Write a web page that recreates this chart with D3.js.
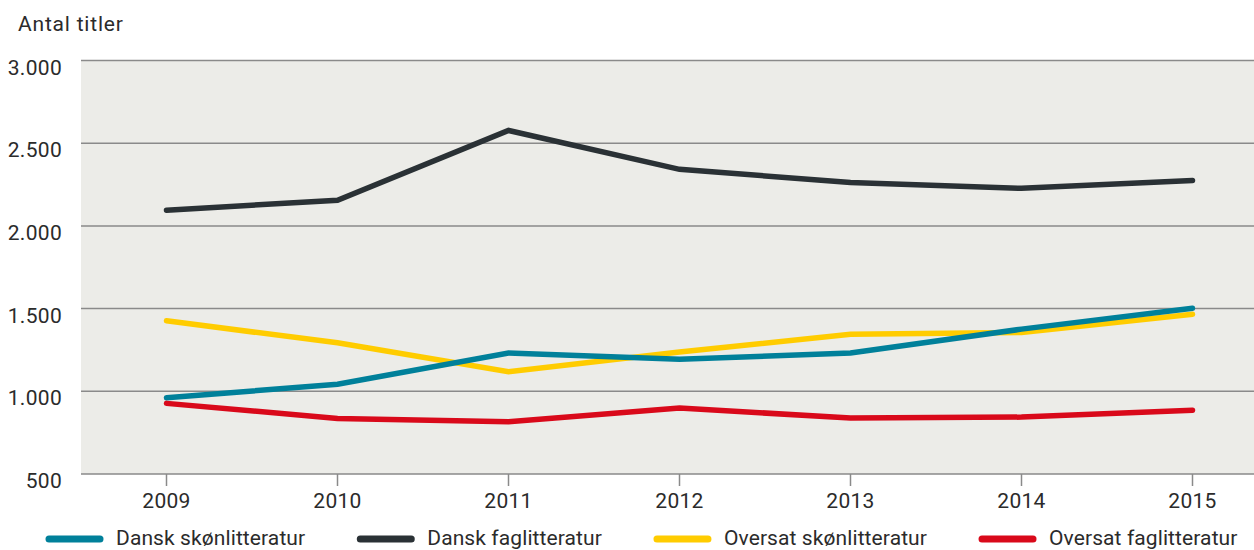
<!DOCTYPE html>
<html><head><meta charset="utf-8">
<script src="https://cdn.jsdelivr.net/npm/d3@7"></script>
<style>
body{margin:0;background:#fff;}
text{font-family:Roboto, "Noto Sans", sans-serif;fill:#2b2b2b;letter-spacing:0.3px;}
</style></head>
<body><svg id="c" width="1254" height="550"></svg>
<script>
const years = ["2009","2010","2011","2012","2013","2014","2015"];
const yTicks = [500,1000,1500,2000,2500,3000];
const seriesNames = ["Dansk skønlitteratur","Dansk faglitteratur","Oversat skønlitteratur","Oversat faglitteratur"];
const seriesColors = ["#00809a","#2a3135","#ffcc00","#d9091a"];
const danskSkon = [961,1043,1232,1194,1231,1376,1502];
const danskFag = [2095,2155,2577,2342,2263,2227,2275];
const oversatSkon = [1426,1293,1118,1237,1345,1356,1466];
const oversatFag = [927,836,816,899,838,844,886];
const seriesValues = [danskSkon,danskFag,oversatSkon,oversatFag];
const drawOrder = [1,2,0,3];

const svg = d3.select("#c");
const pLeft = 81, pRight = 1278, pTop = 60.5, pBottom = 474;
const x = d3.scaleBand().domain(years).range([pLeft,pRight]).padding(0);
const xc = d => x(d) + x.bandwidth()/2;
const y = d3.scaleLinear().domain([500,3000]).range([pBottom,pTop]);

svg.append("rect").attr("x",pLeft).attr("y",pTop).attr("width",1254-pLeft).attr("height",pBottom-pTop).attr("fill","#ecece8");

// gridlines
svg.append("g").selectAll("line").data(yTicks).join("line")
  .attr("x1",pLeft).attr("x2",1254).attr("y1",d=>y(d)).attr("y2",d=>y(d))
  .attr("stroke","#8a8a8a").attr("stroke-width",1.5);

// y labels
svg.append("g").selectAll("text").data(yTicks).join("text")
  .attr("x",62).attr("y",d=>y(d)+14).attr("text-anchor","end").attr("font-size",21)
  .text(d=>d3.format(",")(d).replace(/,/g,"."));

// x axis ticks
svg.append("g").selectAll("line").data(years).join("line")
  .attr("x1",d=>xc(d)).attr("x2",d=>xc(d)).attr("y1",pBottom).attr("y2",pBottom+12)
  .attr("stroke","#8a8a8a").attr("stroke-width",1.5);
svg.append("g").selectAll("text").data(years).join("text")
  .attr("x",d=>xc(d)).attr("y",508).attr("text-anchor","middle").attr("font-size",21).text(d=>d);

// title
svg.append("text").attr("x",18).attr("y",31).attr("font-size",21).style("letter-spacing","0.8px").text("Antal titler");

// lines
const line = d3.line().x((d,i)=>xc(years[i])).y(d=>y(d));
drawOrder.forEach(k=>{
  svg.append("path").datum(seriesValues[k]).attr("d",line).attr("fill","none")
    .attr("stroke",seriesColors[k]).attr("stroke-width",5.5)
    .attr("stroke-linecap","round").attr("stroke-linejoin","miter");
});

// legend
let lx = 49;
const ly = 539;
seriesNames.forEach((n,k)=>{
  svg.append("line").attr("x1",lx).attr("x2",lx+51).attr("y1",ly).attr("y2",ly)
    .attr("stroke",seriesColors[k]).attr("stroke-width",7).attr("stroke-linecap","round");
  const t = svg.append("text").attr("x",lx+67).attr("y",ly+6).attr("font-size",21)
    .style("letter-spacing","0.1px").text(n);
  lx += 67 + t.node().getComputedTextLength() + 55;
});
</script></body></html>
